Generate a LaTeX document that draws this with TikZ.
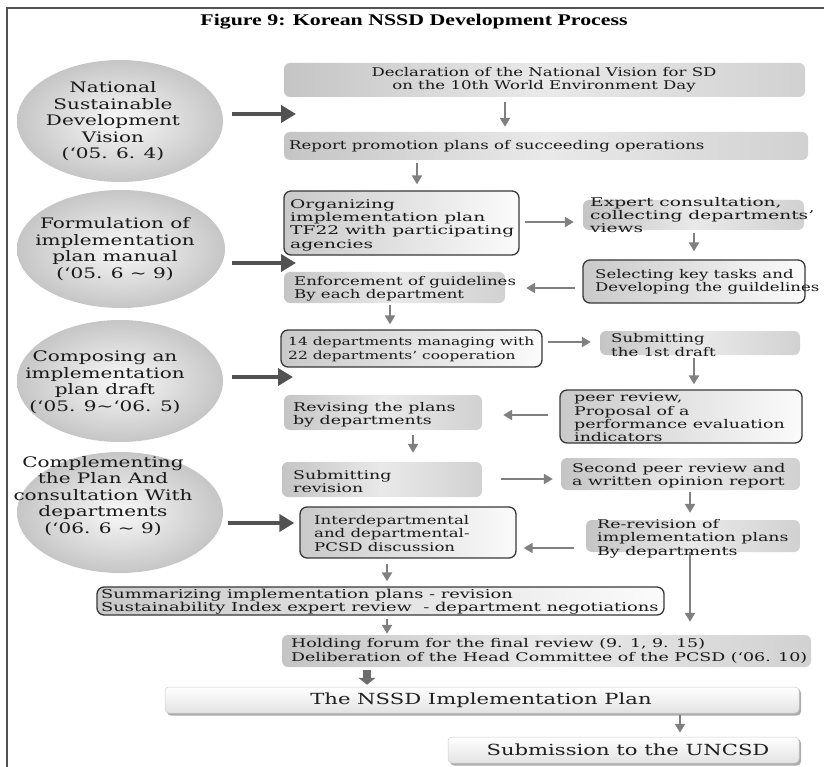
\documentclass[tikz,border=0pt]{standalone}
\usepackage{fontspec}
\usetikzlibrary{shapes.geometric,arrows.meta,calc}
\newfontfamily\boxfont[FakeStretch=1.38]{DejaVu Serif}
\newfontfamily\boxfontb[FakeStretch=1.45]{DejaVu Serif}
\newfontfamily\boxfontc[FakeStretch=1.55]{DejaVu Serif}
\newfontfamily\titlefont[FakeStretch=1.34]{Liberation Serif}
\tikzset{
 plainbox/.style={rectangle, rounded corners=6pt, inner sep=0pt, left color=gray!46, right color=gray!36, middle color=gray!17},
 bordbox/.style={rectangle, rounded corners=7pt, draw=black!78, line width=1.3pt, inner sep=0pt, left color=gray!42, right color=gray!3},
 barbox/.style={rectangle, rounded corners=4pt, draw=gray!40, line width=0.5pt, inner sep=0pt, top color=white, bottom color=gray!22},
 barshadow/.style={fill=gray!65, rounded corners=4pt},
 phase/.style={ellipse, inner sep=0pt, inner color=gray!5, outer color=gray!45},
 txt/.style={font=\boxfont\fontsize{12}{13.3}\selectfont, align=left, inner sep=0pt, text=black!90},
 txtb/.style={txt, font=\boxfontb\fontsize{12}{13.3}\selectfont},
 txtc/.style={txt, font=\boxfontc\fontsize{12}{13.3}\selectfont},
 ctxt/.style={txt, align=center},
 ptxt/.style={font=\boxfont\fontsize{14.5}{16.5}\selectfont, align=center, inner sep=0pt, text=black!90},
 btxt/.style={font=\boxfont\fontsize{15.3}{17}\selectfont, inner sep=0pt, text=black!88},
 arr/.style={draw=gray, line width=2.2pt, -{Triangle[length=9pt,width=10pt]}},
 bigarr/.style={draw=black!68, line width=4.5pt, -{Triangle[length=15pt,width=17pt]}},
 blockarr/.style={draw=gray!85!black, line width=8pt, -{Triangle[length=7pt,width=17pt]}},
}
\begin{document}
\begin{tikzpicture}[x=1pt,y=-1pt]
\useasboundingbox (0,0) rectangle (824,767);
\draw[line width=1.4pt, black!68] (7,767) -- (7,8) -- (824,8);
\node[font=\titlefont\bfseries\fontsize{16.3}{18}\selectfont, inner sep=0pt] (title) at (414,22) {Figure 9: Korean NSSD Development Process};

% phases
\node[phase, minimum width=206pt, minimum height=122pt] (e1) at (120,121) {};
\node[ptxt] (e1t) at (113,121.5) {National\\Sustainable\\Development\\Vision\\(‘05. 6. 4)};
\node[phase, minimum width=208pt, minimum height=118pt] (e2) at (121,249) {};
\node[ptxt] (e2t) at (115,249) {Formulation of\\implementation\\plan manual\\(‘05. 6 \textasciitilde{} 9)};
\node[phase, minimum width=206pt, minimum height=122pt] (e3) at (120,381) {};
\node[ptxt] (e3t) at (105,382) {Composing an\\implementation\\plan draft\\(‘05. 9\textasciitilde‘06. 5)};
\node[phase, minimum width=206pt, minimum height=121pt] (e4) at (120,512.5) {};
\node[ptxt] (e4t) at (103,496) {Complementing\\the Plan And\\consultation With\\departments\\(‘06. 6 \textasciitilde{} 9)};

% boxes
\node[plainbox, minimum width=521pt, minimum height=34pt] (decl) at (544.5,80) {};
\node[ctxt] (declt) at (544,80) {Declaration of the National Vision for SD\\on the 10th World Environment Day};
\node[plainbox, minimum width=524pt, minimum height=28pt] (report) at (546,146) {};
\node[txt, anchor=west] (reportt) at (289,146) {Report promotion plans of succeeding operations};
\node[bordbox, minimum width=235pt, minimum height=64pt] (organ) at (401.5,223) {};
\node[txtc, anchor=west] (organt) at (290,225) {Organizing\\implementation plan\\TF22 with participating\\agencies};
\node[plainbox, minimum width=221pt, minimum height=30pt] (expert) at (693.5,215) {};
\node[txtc, anchor=west] (expertt) at (590,215) {Expert consultation,\\collecting departments’\\views};
\node[bordbox, minimum width=222pt, minimum height=43pt] (select) at (694,281.5) {};
\node[txt, anchor=west] (selectt) at (595,282) {Selecting key tasks and\\Developing the guildelines};
\node[plainbox, minimum width=221pt, minimum height=31pt] (enforce) at (394.5,287.5) {};
\node[txt, anchor=west] (enforcet) at (294,289) {Enforcement of guidelines\\By each department};
\node[bordbox, minimum width=261pt, minimum height=37pt] (dept) at (411.5,348.5) {};
\node[txt, font=\boxfont\fontsize{11.2}{13.3}\selectfont, anchor=west] (deptt) at (288,349.5) {14 departments managing with\\22 departments’ cooperation};
\node[plainbox, minimum width=200pt, minimum height=24pt] (sub1) at (700,343) {};
\node[txt, anchor=west] (sub1t) at (611,345) {Submitting\\the 1st draft};
\node[bordbox, minimum width=242pt, minimum height=53pt] (peer) at (681,416.5) {};
\node[txtb, anchor=west] (peert) at (574,417.5) {peer review,\\Proposal of a\\performance evaluation\\indicators};
\node[plainbox, minimum width=198pt, minimum height=35pt] (revise) at (383,412.5) {};
\node[txtb, anchor=west] (reviset) at (293,414.5) {Revising the plans\\by departments};
\node[plainbox, minimum width=200pt, minimum height=35pt] (subrev) at (382,479.5) {};
\node[txtb, anchor=west] (subrevt) at (293,481.5) {Submitting\\revision};
\node[plainbox, minimum width=239pt, minimum height=32pt] (second) at (680.5,474) {};
\node[txtb, anchor=west] (secondt) at (572,476) {Second peer review and\\a written opinion report};
\node[plainbox, minimum width=214pt, minimum height=32pt] (rerev) at (693,536) {};
\node[txtb, anchor=west] (rerevt) at (597,538.5) {Re-revision of\\implementation plans\\By departments};
\node[bordbox, minimum width=216pt, minimum height=51pt] (inter) at (408,532.5) {};
\node[txt, anchor=west] (intert) at (314,533.5) {Interdepartmental\\and departmental-\\PCSD discussion};
\node[bordbox, minimum width=567pt, minimum height=28pt] (summ) at (380.5,601) {};
\node[txtb, font=\boxfontb\fontsize{12.3}{13.3}\selectfont, anchor=west] (summt) at (101,601.5) {Summarizing implementation plans - revision\\Sustainability Index expert review\ \ - department negotiations};
\node[plainbox, minimum width=529pt, minimum height=32pt] (hold) at (546.5,651) {};
\node[txtb, anchor=west] (holdt) at (291,651) {Holding forum for the final review (9. 1, 9. 15)\\Deliberation of the Head Committee of the PCSD (‘06. 10)};
\fill[barshadow] (167,689) rectangle (801,715.5);
\node[barbox, minimum width=634pt, minimum height=26pt] (nssd) at (482,700) {};
\node[btxt] (nssdt) at (481,700) {The NSSD Implementation Plan};
\fill[barshadow] (450,739) rectangle (801,765.5);
\node[barbox, minimum width=351pt, minimum height=26pt] (subm) at (623.5,750) {};
\node[btxt] (submt) at (628,750) {Submission to the UNCSD};

% columns / free ends
\coordinate (c505) at (505,0);
\coordinate (c417) at (417,0);
\coordinate (c694) at (694,0);
\coordinate (c390) at (390,0);
\coordinate (c413) at (413,0);
\coordinate (c690) at (690,0);
\coordinate (c387) at (387,0);
\coordinate (c367) at (367,0);
\coordinate (c680) at (680,0);
\coordinate (r222) at (0,222);
\coordinate (r288) at (0,288);
\coordinate (r342) at (0,342);
\coordinate (r415) at (0,415);
\coordinate (r479) at (0,479);
\coordinate (r548) at (0,548);
\coordinate (a1) at (296,114);
\coordinate (a2) at (296,263);
\coordinate (a3) at (293,377);
\coordinate (a4) at (0,523);

% big arrows
\draw[bigarr, shorten <=9pt] (e1.east |- a1) -- (a1);
\draw[bigarr, shorten <=7pt] (e2.east |- a2) -- (a2);
\draw[bigarr, shorten <=9pt] (e3.east |- a3) -- (a3);
\draw[bigarr, shorten <=5pt, shorten >=5pt] (e4.east |- a4) -- (inter.west |- a4);

% small arrows
\draw[arr, shorten <=5pt, shorten >=5pt] (decl.south -| c505) -- (report.north -| c505);
\draw[arr, shorten <=3pt, shorten >=6pt] (report.south -| c417) -- (organ.north -| c417);
\draw[arr, shorten <=5pt, shorten >=9pt] (organ.east |- r222) -- (expert.west |- r222);
\draw[arr, shorten <=3pt, shorten >=8pt] (expert.south -| c694) -- (select.north -| c694);
\draw[arr, shorten <=7pt, shorten >=21pt] (select.west |- r288) -- (enforce.east |- r288);
\draw[arr, shorten <=2pt, shorten >=5pt] (enforce.south -| c390) -- (dept.north -| c390);
\draw[arr, shorten <=5pt, shorten >=9pt] (dept.east |- r342) -- (sub1.west |- r342);
\draw[arr, shorten <=3pt, shorten >=5pt] (sub1.south -| c694) -- (peer.north -| c694);
\draw[arr, shorten <=11pt, shorten >=21pt] (peer.west |- r415) -- (revise.east |- r415);
\draw[arr, shorten <=5pt, shorten >=9pt] (revise.south -| c413) -- (subrev.north -| c413);
\draw[arr, shorten <=19pt, shorten >=8pt] (subrev.east |- r479) -- (second.west |- r479);
\draw[arr, shorten <=2pt, shorten >=7pt] (second.south -| c690) -- (rerev.north -| c690);
\draw[arr, shorten <=12pt, shorten >=7pt] (rerev.west |- r548) -- (inter.east |- r548);
\draw[arr, shorten <=5pt, shorten >=5pt] (inter.south -| c387) -- (summ.north -| c387);
\draw[arr, shorten <=3pt, shorten >=1pt] (summ.south -| c387) -- (hold.north -| c387);
\draw[arr, shorten >=13pt] (rerev.south -| c690) -- (hold.north -| c690);
\draw[blockarr, shorten <=3pt, shorten >=2pt] (hold.south -| c367) -- (nssd.north -| c367);
\draw[arr, shorten <=2pt, shorten >=4pt] (nssd.south -| c680) -- (subm.north -| c680);
\end{tikzpicture}
\end{document}
